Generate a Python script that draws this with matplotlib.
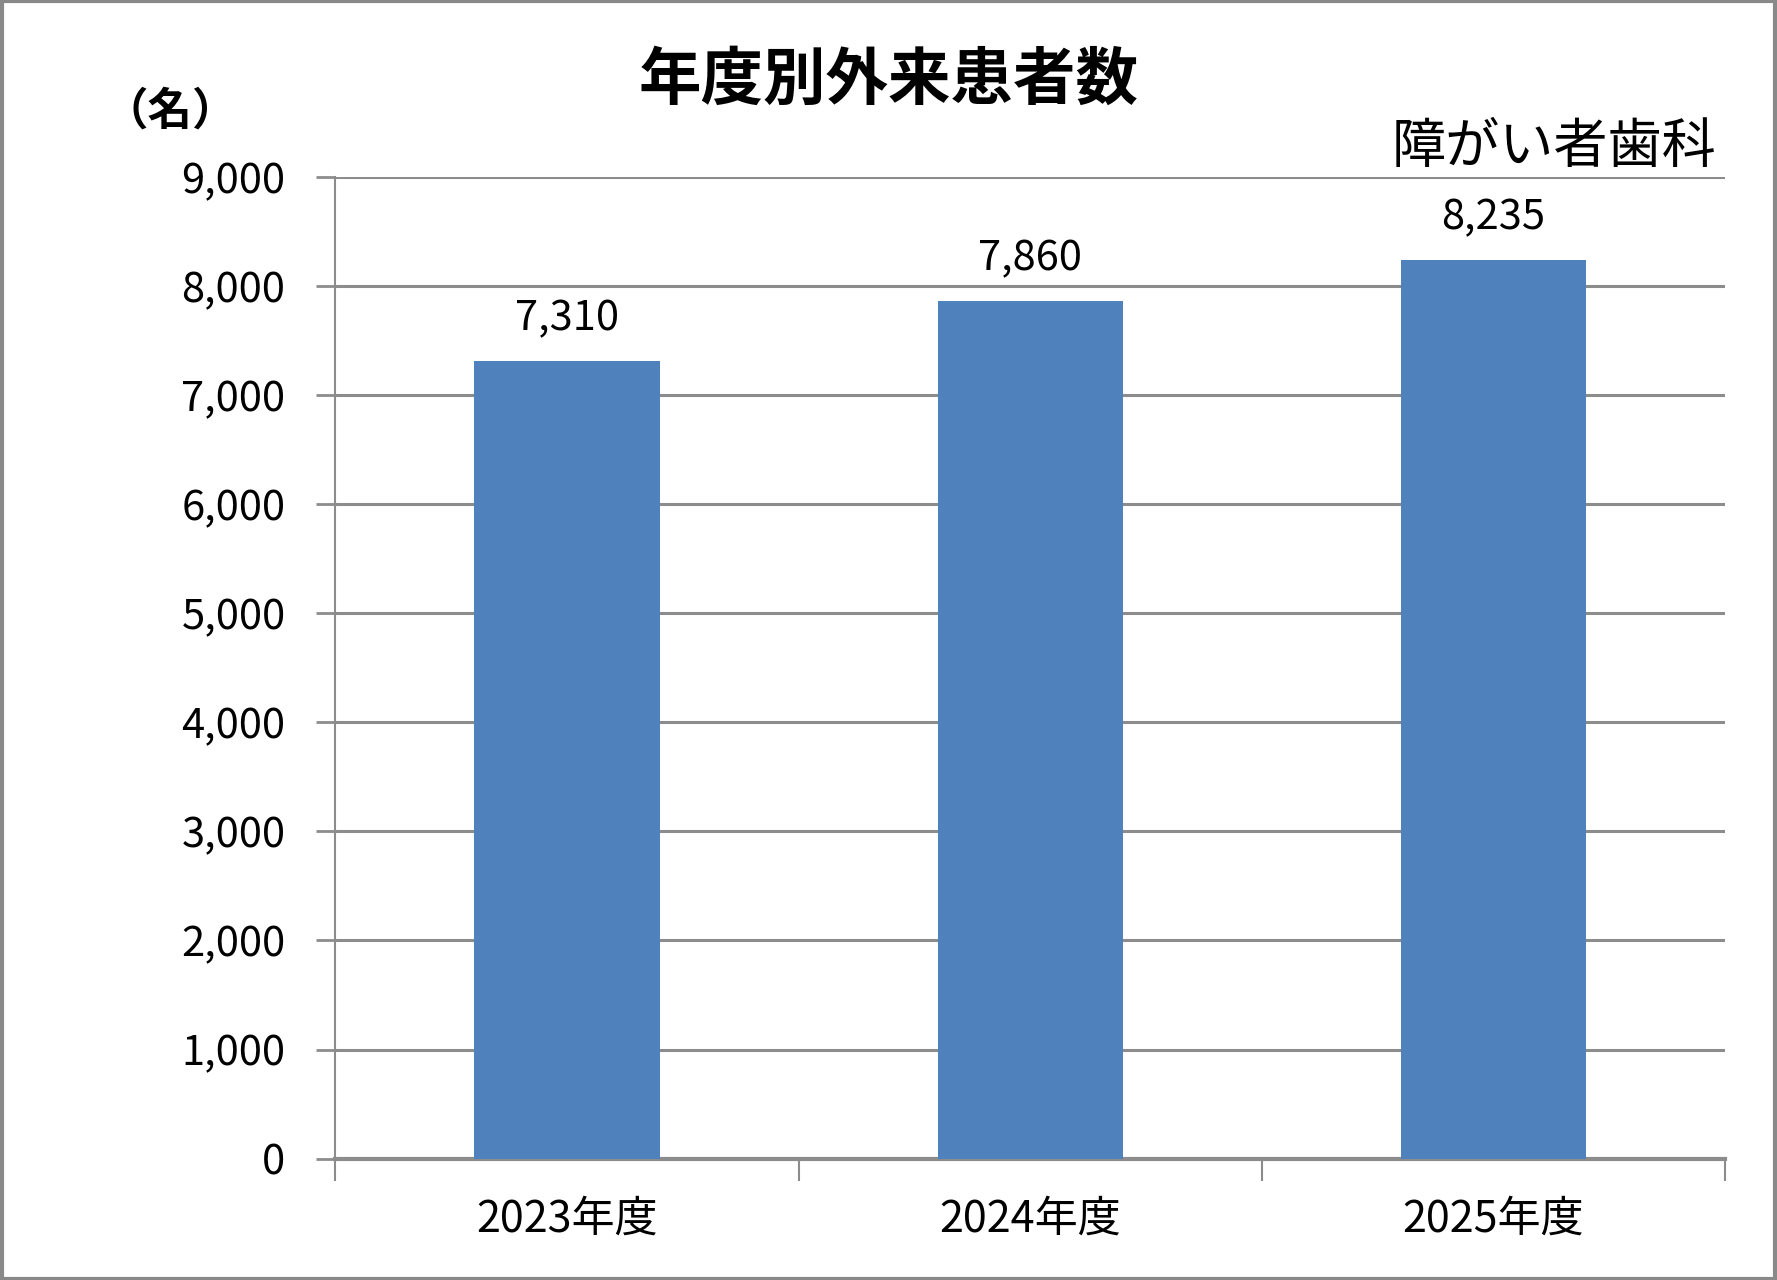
import matplotlib
matplotlib.use("Agg")
import matplotlib.pyplot as plt
import matplotlib.patches as patches
import numpy as np

plt.rcParams['font.family'] = ['Noto Sans CJK JP', 'DejaVu Sans']

# data
years = ['2023年度', '2024年度', '2025年度']
patients = [7310, 7860, 8235]
yticks = [0, 1000, 2000, 3000, 4000, 5000, 6000, 7000, 8000, 9000]

title = '年度別外来患者数'
unit_label = '（名）'
dept_label = '障がい者歯科'

bar_color = '#4F81BD'
grid_color = '#8C8C8C'

fig = plt.figure(figsize=(17.77, 12.8), dpi=100)
ax = fig.add_axes([0.1888, 0.0948, 0.9707 - 0.1888, 0.8618 - 0.0948])

x = np.arange(len(years))
bars = ax.bar(x, patients, width=0.4, color=bar_color, zorder=3)

ax.set_xlim(-0.5, len(years) - 0.5)
ax.set_ylim(0, 9000)
ax.set_yticks(yticks)
ax.set_yticklabels([f'{v:,}' for v in yticks], fontsize=30)
ax.yaxis.grid(True, color=grid_color, linewidth=2.2, zorder=0)
ax.tick_params(axis='y', direction='out', length=14, width=2, color=grid_color, pad=22)

# category labels at centres, tick marks at boundaries
ax.set_xticks(x)
ax.set_xticklabels(years, fontsize=31)
ax.tick_params(axis='x', which='major', length=0, pad=28)
ax.set_xticks(np.arange(len(years) + 1) - 0.5, minor=True)
ax.tick_params(axis='x', which='minor', direction='out', length=16, width=1.5, color=grid_color)

for side in ['top', 'right']:
    ax.spines[side].set_visible(False)
ax.spines['left'].set_color(grid_color)
ax.spines['left'].set_linewidth(1.5)
ax.spines['bottom'].set_color(grid_color)
ax.spines['bottom'].set_linewidth(3)

for rect, v in zip(bars, patients):
    ax.annotate(f'{v:,}', (rect.get_x() + rect.get_width() / 2, v),
                xytext=(0, 16), textcoords='offset points',
                ha='center', va='bottom', fontsize=30)

fig.text(0.5, 0.937, title, ha='center', va='center', fontsize=45, fontweight='bold')
fig.text(0.0957, 0.913, unit_label, ha='center', va='center', fontsize=32, fontweight='bold')
fig.text(0.966, 0.885, dept_label, ha='right', va='center', fontsize=39)

# outer frame
fig.patches.append(patches.Rectangle((0.001, 0.001), 0.998, 0.998, transform=fig.transFigure,
                                     fill=False, edgecolor='#898989', linewidth=3))

plt.savefig('out.png', dpi=100)
